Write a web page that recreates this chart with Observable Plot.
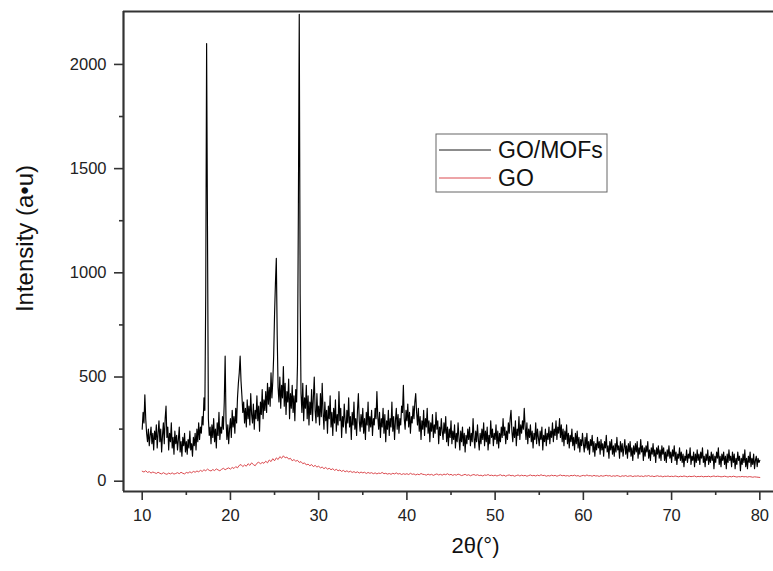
<!DOCTYPE html>
<html>
<head>
<meta charset="utf-8">
<script src="https://cdn.jsdelivr.net/npm/d3@7"></script>
<script src="https://cdn.jsdelivr.net/npm/@observablehq/plot@0.6"></script>
<style>
  html, body { margin: 0; padding: 0; background: #fff; }
  #chart { position: relative; width: 773px; height: 571px; }
</style>
</head>
<body>
<div id="chart"></div>
<script>
// ---- Series names ----
const seriesNames = ["GO/MOFs", "GO"];

// ---- Axis ticks ----
const xTicks = [10, 20, 30, 40, 50, 60, 70, 80];
const xMinorTicks = [15, 25, 35, 45, 55, 65, 75];
const yTicks = [0, 500, 1000, 1500, 2000];
const yMinorTicks = [250, 750, 1250, 1750];

// ---- GO/MOFs intensity, 2θ = 10.0 ... 80.0 in 0.1° steps ----
const mofs10 = [250,330,280,415,300,230,190,250,170,220, 260,180,230,150,240,200,270,160,230,290,
  190,250,140,220,280,180,300,360,210,260, 150,230,190,280,160,210,130,240,180,220,
  150,200,260,140,190,120,210,170,230,140, 190,130,200,160,240,150,180,120,210,170,
  230,150,250,190,280,200,260,230,310,270, 400,340,900,2100,1200,300,220,260,180,270,
  210,300,190,250,160,280,220,330,200,260, 230,310,250,380,600,290,200,270,180,250];
const mofs20 = [300,210,340,260,310,230,350,280,400,470, 520,600,480,410,330,380,280,350,260,390,
  300,360,270,420,320,280,370,250,340,300, 410,290,360,240,380,320,440,300,390,340,
  430,330,470,370,450,360,520,400,480,600, 800,950,1070,700,450,380,500,350,460,400,
  550,360,470,320,430,380,490,300,420,350, 460,330,410,290,440,380,560,1300,2240,900,
  420,330,470,290,400,350,460,300,410,270, 380,320,440,290,400,500,340,280,420,310];
const mofs30 = [360,270,420,310,470,330,250,380,290,340, 230,360,300,410,260,330,220,350,280,390,
  240,320,270,430,290,350,210,310,260,370, 290,230,340,280,400,260,310,200,330,270,
  380,250,300,220,340,420,290,240,320,260, 350,230,300,200,330,270,380,240,310,260,
  340,220,300,270,350,300,430,310,250,330, 210,300,260,350,230,320,190,290,250,340,
  220,300,260,380,240,310,200,290,350,250, 320,230,300,270,360,330,460,300,250,340];
const mofs40 = [290,370,260,330,230,310,280,360,300,380, 420,330,270,350,240,310,200,290,250,340,
  220,300,260,350,230,290,190,280,240,320, 210,270,230,330,250,290,180,260,220,300,
  240,200,280,230,310,190,260,170,250,210, 290,180,240,200,270,160,230,190,280,210,
  150,240,190,260,170,230,140,220,180,250, 200,260,170,230,190,300,210,160,240,190,
  270,200,150,230,180,250,200,280,170,240, 190,260,150,220,180,290,210,250,170,230];
const mofs50 = [200,270,180,240,160,230,190,260,210,300, 220,260,180,240,200,280,230,300,340,240,
  190,260,210,290,170,250,220,310,200,270, 230,290,250,350,260,200,280,180,250,210,
  270,190,240,160,230,200,280,180,250,210, 170,240,200,260,150,220,190,250,170,230,
  200,260,180,240,210,280,190,250,220,290, 200,260,230,300,210,270,190,250,170,240,
  200,270,180,230,160,220,190,250,170,210, 150,230,180,240,160,210,140,200,170,230];
const mofs60 = [180,140,210,160,230,150,190,130,200,170, 220,140,190,120,180,150,210,160,190,130,
  200,150,180,120,190,160,220,140,170,110, 190,150,200,130,170,120,180,140,210,150,
  170,110,190,140,180,120,160,200,130,170, 110,180,140,190,120,160,100,170,130,180,
  140,190,110,160,130,200,140,170,100,160, 120,170,140,190,110,150,100,160,130,180,
  120,150,90,160,130,170,110,150,100,170, 130,160,100,140,90,150,120,170,110,140];
const mofs70 = [90,150,120,170,100,140,80,130,110,160, 100,140,90,130,70,120,100,150,90,130,
  110,160,80,120,100,140,70,130,90,150, 100,130,80,140,110,160,90,120,70,130,
  100,150,80,120,90,140,100,130,60,120, 90,140,110,160,80,120,70,130,100,140,
  80,120,60,130,90,150,100,120,70,140, 90,130,60,110,80,140,100,120,50,110,
  80,130,90,150,70,110,60,120,90,140, 70,110,80,130,60,100,120,70,110,90, 100];

// ---- GO intensity, 2θ = 10.0 ... 80.0 in 0.2° steps ----
const go10 = [48,44,50,42,46,39,44,41,37,43, 38,35,41,36,33,39,35,40,34,37,
  41,36,43,38,35,42,39,45,40,47, 43,49,45,52,47,55,50,58,52,49, 56,51,59,54,50,57,62,55,60,64];
const go20 = [58,66,61,70,64,76,80,70,78,72, 84,76,88,80,74,86,92,83,90,86,
  96,88,102,94,108,98,112,104,118,110, 122,112,116,106,110,98,104,96,100,90, 94,84,88,78,82,74,80,70,76,68];
const go30 = [72,64,68,60,66,58,62,55,60,52, 57,50,54,47,52,45,50,44,48,42,
  46,41,45,39,44,40,43,37,42,38, 41,36,40,35,39,37,42,36,38,34, 37,33,38,35,40,34,37,32,36,33];
const go40 = [36,32,38,33,35,30,34,31,37,33, 32,29,34,30,33,28,32,35,30,33,
  29,34,31,36,30,33,28,32,29,34, 31,27,30,33,28,31,26,30,32,28, 31,27,29,25,30,28,32,27,29,26];
const go50 = [29,25,28,31,26,29,24,28,30,26, 28,24,27,30,25,29,26,28,24,27,
  30,26,28,25,29,26,31,27,28,24, 27,25,29,26,28,24,27,30,26,28, 25,27,24,28,26,29,25,27,23,26];
const go60 = [28,25,30,26,27,24,28,25,26,23, 27,24,26,28,25,27,23,26,24,27,
  25,22,26,24,27,23,25,26,22,25, 24,26,23,25,22,26,24,27,23,25, 22,24,26,23,25,21,24,23,25,22];
const go70 = [24,22,25,23,21,24,22,25,23,21, 24,22,23,25,21,23,22,24,21,23,
  22,24,21,23,25,22,24,23,21,22, 24,22,20,23,21,24,22,20,22,21, 23,21,22,20,22,21,19,21,20,19, 18];

// ---- Build tables (2θ from the sample index) ----
const mofsValues = [...mofs10, ...mofs20, ...mofs30, ...mofs40, ...mofs50, ...mofs60, ...mofs70];
const goValues = [...go10, ...go20, ...go30, ...go40, ...go50, ...go60, ...go70];
const mofsData = mofsValues.map((v, i) => ({theta: Math.round((10 + i * 0.1) * 10) / 10, intensity: v}));
const goData = goValues.map((v, i) => ({theta: Math.round((10 + i * 0.2) * 10) / 10, intensity: v}));

const xDomain = [7.88, 81.55];
const yDomain = [-49.4, 2254];
const axisColor = "#333";
const font = "'Liberation Sans', Arial, Helvetica, sans-serif";

const chart = Plot.plot({
  width: 773,
  height: 571,
  marginLeft: 123,
  marginRight: 0,
  marginTop: 11,
  marginBottom: 80,
  style: {fontFamily: font, fontSize: "16.5px", color: "#222", background: "#fff"},
  x: {domain: xDomain},
  y: {domain: yDomain},
  marks: [
    Plot.lineY(goData, {x: "theta", y: "intensity", stroke: "#d7373c", strokeWidth: 0.9}),
    Plot.lineY(mofsData, {x: "theta", y: "intensity", stroke: "#000", strokeWidth: 1.15}),
    Plot.axisX({ticks: xTicks, tickSize: 9, tickPadding: 9, tickFormat: d => String(d), label: null, stroke: axisColor, strokeWidth: 1.6, fontSize: 16.5}),
    Plot.axisX({ticks: xMinorTicks, tickSize: 4, tickFormat: () => "", label: null, stroke: axisColor, strokeWidth: 1.6}),
    Plot.axisY({ticks: yTicks, tickSize: 9, tickPadding: 8, tickFormat: d => String(d), label: null, stroke: axisColor, strokeWidth: 1.6, fontSize: 16.5}),
    Plot.axisY({ticks: yMinorTicks, tickSize: 4, tickFormat: () => "", label: null, stroke: axisColor, strokeWidth: 1.6}),
    Plot.ruleX([xDomain[0]], {stroke: axisColor, strokeWidth: 2.2}),
    Plot.ruleY([yDomain[0]], {stroke: axisColor, strokeWidth: 2.2}),
    Plot.ruleY([yDomain[1]], {stroke: axisColor, strokeWidth: 2.2}),
    Plot.text(["Intensity (a•u)"], {frameAnchor: "left", textAnchor: "middle", dx: -98, dy: -13, rotate: -90, fontSize: 24, fill: "#111"}),
    Plot.text(["2θ(°)"], {frameAnchor: "bottom", dx: 27, dy: 61, fontSize: 22, fill: "#111"})
  ]
});

// ---- Legend (drawn into the same SVG) ----
const svg = d3.select(chart);
const legendColors = ["#000", "#d7373c"];
const lg = svg.append("g").attr("font-family", font).attr("text-anchor", "start");
lg.append("rect").attr("x", 436).attr("y", 134).attr("width", 171).attr("height", 58)
  .attr("fill", "#fff").attr("stroke", "#666").attr("stroke-width", 1);
seriesNames.forEach((name, i) => {
  const cy = 150 + i * 28;
  lg.append("line").attr("x1", 439).attr("x2", 491).attr("y1", cy).attr("y2", cy)
    .attr("stroke", legendColors[i]).attr("stroke-width", 0.9);
  lg.append("text").attr("x", 498).attr("y", cy).attr("dy", "0.36em")
    .attr("text-anchor", "start").attr("font-size", 23).attr("fill", "#111").text(name);
});

document.getElementById("chart").appendChild(chart);
</script>
</body>
</html>
